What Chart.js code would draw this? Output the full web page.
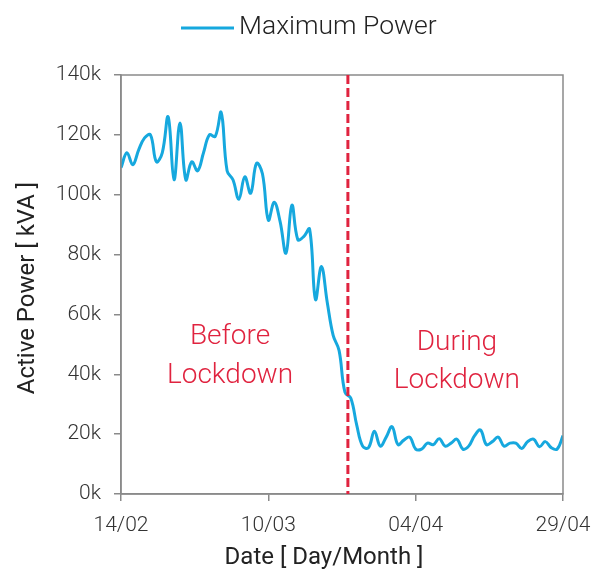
<!DOCTYPE html>
<html>
<head>
<meta charset="utf-8">
<script src="https://cdn.jsdelivr.net/npm/chart.js@4/dist/chart.umd.min.js"></script>
<style>
  html, body { margin: 0; padding: 0; background: #fff; }
  #wrap { width: 592px; height: 572px; }
</style>
</head>
<body>
<div id="wrap"><canvas id="chart"></canvas></div>
<script>
// days since 14/02, daily maximum power in kVA (thousands)
const days = Array.from({ length: 76 }, (_, i) => i);
const maxPower = [
  109, 114, 110, 115, 119, 120, 111, 114, 126, 105,
  124, 105, 111, 108, 114, 120, 119.5, 127.5, 108, 105,
  98.5, 106, 100.5, 110.5, 107, 91.5, 97.5, 91, 80.5, 96.5,
  85, 86, 88.5, 65, 76, 64, 53, 48, 34, 32,
  23, 16, 15.5, 21, 16, 19, 22.5, 16.5, 18, 19,
  15, 15, 17, 16.5, 18.5, 16, 17, 18.3, 15, 16,
  19.5, 21.4, 16.5, 17.5, 19, 16, 17, 17, 15.2, 17.5,
  18.3, 15.8, 17.5, 15.5, 15, 19.5
];
const xTickDays = [0, 25, 50, 75];
const xTickLabels = ["14/02", "10/03", "04/04", "29/04"];
const lockdownDay = 38.5;
const phaseLabels = [
  { lines: ["Before", "Lockdown"], day: 18.5, values: [52.5, 39.4] },
  { lines: ["During", "Lockdown"], day: 57, values: [50.5, 37.8] }
];
const xTitle = "Date [ Day/Month ]";
const yTitle = "Active Power [ kVA ]";

const BLUE = "#16a8de";
const RED = "#e0233f";
const AXIS = "#8a8a8a";
const FONT = "Roboto";

const extras = {
  id: "extras",
  afterDatasetsDraw(chart) {
    const { ctx, chartArea: a, scales: { x, y } } = chart;
    ctx.save();
    ctx.strokeStyle = AXIS;
    ctx.lineWidth = 1.5;
    ctx.strokeRect(a.left, a.top, a.right - a.left, a.bottom - a.top);

    const lx = x.getPixelForValue(lockdownDay);
    ctx.strokeStyle = RED;
    ctx.lineWidth = 3;
    ctx.setLineDash([9, 4]);
    ctx.beginPath();
    ctx.moveTo(lx, a.top);
    ctx.lineTo(lx, a.bottom);
    ctx.stroke();
    ctx.setLineDash([]);

    ctx.fillStyle = RED;
    ctx.font = `300 28px ${FONT}`;
    ctx.textAlign = "center";
    ctx.textBaseline = "middle";
    phaseLabels.forEach(p => p.lines.forEach((t, i) =>
      ctx.fillText(t, x.getPixelForValue(p.day), y.getPixelForValue(p.values[i]))));

    // legend
    const ds = chart.data.datasets[0];
    ctx.strokeStyle = ds.borderColor;
    ctx.lineWidth = 3;
    ctx.beginPath();
    ctx.moveTo(181, 28);
    ctx.lineTo(234, 28);
    ctx.stroke();
    ctx.fillStyle = "#222";
    ctx.font = `300 26.5px ${FONT}`;
    ctx.textAlign = "left";
    ctx.fillText(ds.label, 239, 27);

    // axis titles
    ctx.font = `400 24px ${FONT}`;
    ctx.textAlign = "center";
    ctx.fillText(xTitle, 324, 558);
    ctx.translate(28, 288);
    ctx.rotate(-Math.PI / 2);
    ctx.fillText(yTitle, 0, 0);
    ctx.restore();
  }
};

new Chart(document.getElementById("chart"), {
  type: "line",
  data: {
    labels: days,
    datasets: [{
      label: "Maximum Power",
      data: days.map((d, i) => ({ x: d, y: maxPower[i] })),
      borderColor: BLUE,
      backgroundColor: BLUE,
      borderWidth: 3,
      pointRadius: 0,
      tension: 0.4
    }]
  },
  options: {
    responsive: true,
    maintainAspectRatio: false,
    animation: false,
    layout: { padding: { top: 75, right: 29, left: 0, bottom: 0 } },
    plugins: {
      tooltip: { enabled: false },
      legend: { display: false }
    },
    scales: {
      x: {
        type: "linear",
        min: 0,
        max: 75,
        afterBuildTicks: s => { s.ticks = xTickDays.map(v => ({ value: v })); },
        afterFit: s => { s.height = 78; s.paddingLeft = 0; s.paddingRight = 0; },
        grid: { display: true, drawOnChartArea: false, drawTicks: true, tickLength: 7, color: AXIS, lineWidth: 1.5 },
        border: { display: true, color: AXIS, width: 1.5 },
        ticks: {
          color: "#333",
          font: { family: FONT, size: 21, weight: 300 },
          padding: 12,
          maxRotation: 0,
          callback: v => xTickLabels[xTickDays.indexOf(v)]
        }
      },
      y: {
        min: 0,
        max: 140,
        afterFit: s => { s.width = 121; },
        grid: { display: true, drawOnChartArea: false, drawTicks: true, tickLength: 7, color: AXIS, lineWidth: 1.5 },
        border: { display: true, color: AXIS, width: 1.5 },
        ticks: {
          stepSize: 20,
          color: "#333",
          font: { family: FONT, size: 21, weight: 300 },
          padding: 13,
          callback: v => v + "k"
        }
      }
    }
  },
  plugins: [extras]
});
</script>
</body>
</html>
